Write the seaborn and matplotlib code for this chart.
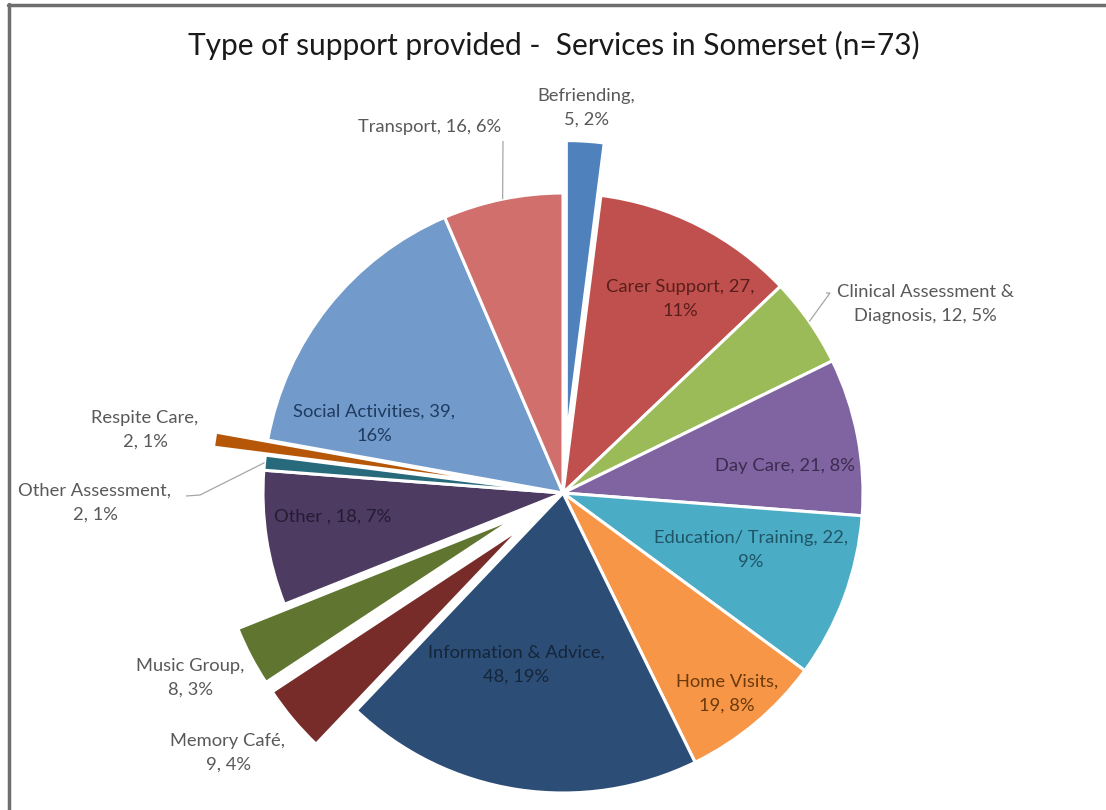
import numpy as np
import matplotlib
matplotlib.use("Agg")
import matplotlib.pyplot as plt
from matplotlib.lines import Line2D
import seaborn as sns

# Support categories, clockwise from 12 o'clock
categories = ["Befriending", "Carer Support", "Clinical Assessment &\nDiagnosis",
              "Day Care", "Education/ Training", "Home Visits",
              "Information & Advice", "Memory Café", "Music Group", "Other ",
              "Other Assessment", "Respite Care", "Social Activities", "Transport"]
counts = [5, 27, 12, 21, 22, 19, 48, 9, 8, 18, 2, 2, 39, 16]
pulled_out = ["Befriending", "Memory Café", "Music Group", "Respite Care"]

slice_colors = ["#4f81bd", "#c0504d", "#9bbb59", "#8064a2", "#4bacc6", "#f79646",
                "#2c4d75", "#772c2a", "#5f7530", "#4d3b62", "#276a7c", "#b65708",
                "#729aca", "#d06f6c"]

sns.set_theme(style="white")
plt.rcParams["font.family"] = ["Lato", "DejaVu Sans"]

W, H = 1106, 810
fig = plt.figure(figsize=(W / 100, H / 100), dpi=100)
fig.patch.set_facecolor("white")
ax = fig.add_axes([0, 0, 1, 1])

cx, cy = 563, H - 493
R = 300
# matplotlib offsets exploded wedges in data units, so scale by the radius
explode = [0.175 * R if c in pulled_out else 0.0 for c in categories]

wedges, _ = ax.pie(counts, colors=slice_colors, startangle=90, counterclock=False,
                   center=(cx, cy), radius=R, explode=explode,
                   wedgeprops=dict(edgecolor="white", linewidth=2.2))

ax.set_xlim(0, W)
ax.set_ylim(0, H)
ax.set_aspect("equal")
ax.axis("off")

total = sum(counts)
pcts = [round(100 * v / total) for v in counts]


def label_text(i, line_break):
    name = categories[i].replace(" &\n", " & ")
    if i == 2:
        return f"Clinical Assessment &\nDiagnosis, {counts[i]}, {pcts[i]}%"
    if line_break == "after_name":
        return f"{name},\n{counts[i]}, {pcts[i]}%"
    if line_break == "after_count":
        return f"{name}, {counts[i]},\n{pcts[i]}%"
    return f"{name}, {counts[i]}, {pcts[i]}%"


# label layout: (x, y in pixels from top-left, line-break style, text colour)
outside = "#595959"
layout = {
    "Befriending": (586, 108, "after_name", outside),
    "Carer Support": (680, 299, "after_count", "#5a1e1c"),
    "Clinical Assessment &\nDiagnosis": (925, 304, None, outside),
    "Day Care": (785, 466, None, "#3b2c4f"),
    "Education/ Training": (751, 550, "after_count", "#1f5566"),
    "Home Visits": (727, 694, "after_name", "#6b3a0c"),
    "Information & Advice": (516, 665, "after_name", "#15253a"),
    "Memory Café": (228, 753, "after_name", outside),
    "Music Group": (190, 678, "after_name", outside),
    "Other ": (333, 517, None, "#251b33"),
    "Other Assessment": (95, 503, "after_name", outside),
    "Respite Care": (145, 430, "after_name", outside),
    "Social Activities": (374, 424, "after_count", "#1f3b60"),
    "Transport": (430, 127, None, outside),
}

for i, cat in enumerate(categories):
    x, y, brk, col = layout[cat]
    ax.text(x, H - y, label_text(i, brk), ha="center", va="center",
            fontsize=13.2, color=col, linespacing=1.6)

# leader lines from wedge rim to outside labels
angles = 90 - 360 * (np.cumsum(counts) - np.array(counts) / 2) / total
rim = {cat: (cx + R * np.cos(np.radians(a)), cy + R * np.sin(np.radians(a)))
       for cat, a in zip(categories, angles)}
leaders = {
    "Transport": [(503, 141)],
    "Clinical Assessment &\nDiagnosis": [(830, 293), (826, 293)],
    "Other Assessment": [(200, 495), (186, 496)],
}
for cat, pts in leaders.items():
    xs = [rim[cat][0]] + [p[0] for p in pts]
    ys = [rim[cat][1]] + [H - p[1] for p in pts]
    ax.plot(xs, ys, color="#a6a6a6", linewidth=0.9, solid_capstyle="butt")

ax.text(W / 2 + 1, H - 45, "Type of support provided -  Services in Somerset (n=73)",
        ha="center", va="center", fontsize=21.5, color="#1a1a1a")

# chart frame (left and top edges)
fig.add_artist(Line2D([9 / W, 9 / W], [0, 1 - 4 / H], transform=fig.transFigure,
                      color="#6e6e6e", linewidth=2.5))
fig.add_artist(Line2D([8 / W, 1], [1 - 5 / H, 1 - 5 / H], transform=fig.transFigure,
                      color="#6e6e6e", linewidth=2.5))

fig.savefig("out.png", dpi=100, facecolor="white")
